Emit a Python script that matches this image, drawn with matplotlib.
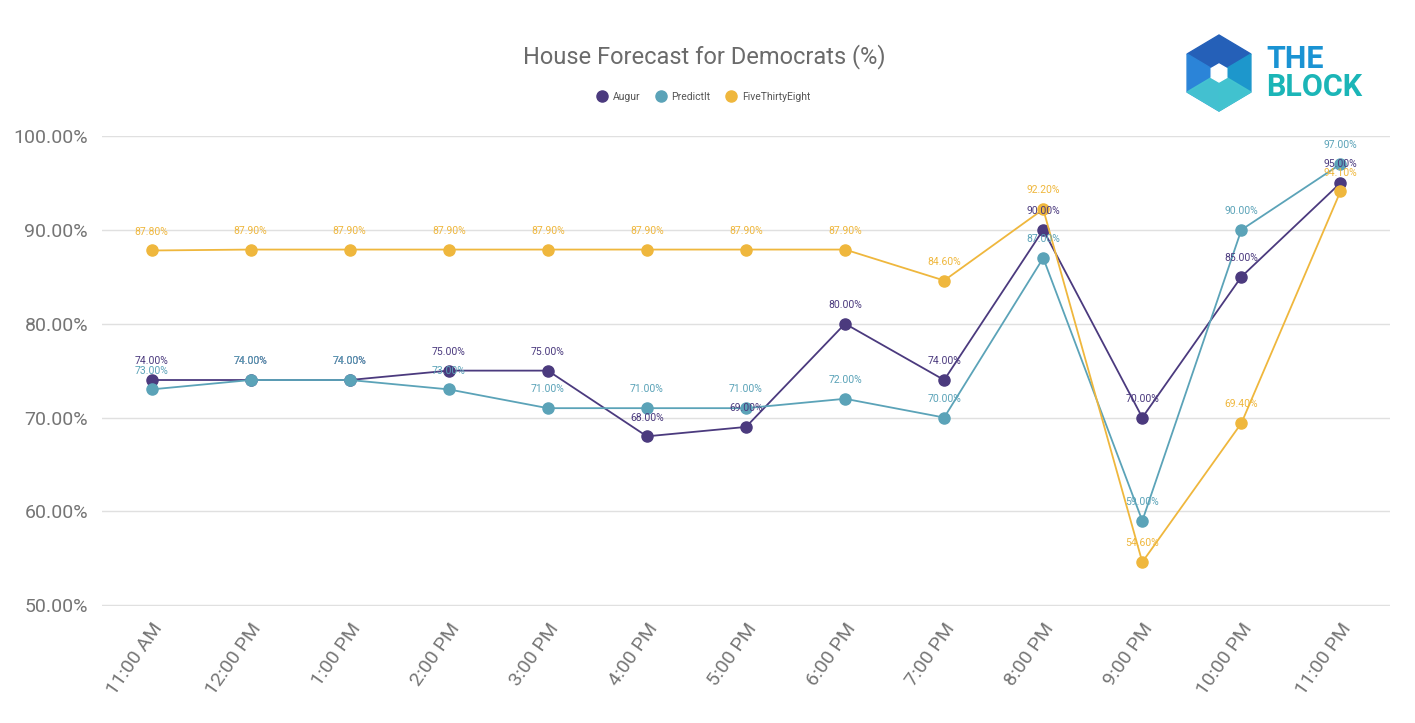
import matplotlib.pyplot as plt
import numpy as np
from matplotlib.patches import Polygon

plt.rcParams['font.family'] = ['Roboto', 'DejaVu Sans']

times = ['11:00 AM', '12:00 PM', '1:00 PM', '2:00 PM', '3:00 PM', '4:00 PM', '5:00 PM',
         '6:00 PM', '7:00 PM', '8:00 PM', '9:00 PM', '10:00 PM', '11:00 PM']
augur = [74, 74, 74, 75, 75, 68, 69, 80, 74, 90, 70, 85, 95]
predictit = [73, 74, 74, 73, 71, 71, 71, 72, 70, 87, 59, 90, 97]
fte = [87.8, 87.9, 87.9, 87.9, 87.9, 87.9, 87.9, 87.9, 84.6, 92.2, 54.6, 69.4, 94.1]

names = ['Augur', 'PredictIt', 'FiveThirtyEight']
colors = ['#4b3a7e', '#5ba3b8', '#efb73d']

fig = plt.figure(figsize=(14.15, 7.23), dpi=100)
ax = fig.add_axes([102 / 1415, 1 - 606 / 723, 1288 / 1415, 470 / 723])

x = np.arange(len(times))
for vals, name, c in zip([augur, predictit, fte], names, colors):
    ax.plot(x, vals, color=c, lw=1.3, marker='o', ms=8, label=name, zorder=3)
    for xi, v in zip(x, vals):
        ax.annotate('%.2f%%' % v, (xi, v), xytext=(0, 13.5), textcoords='offset points',
                    ha='center', va='center', fontsize=7.5, color=c, zorder=4)

ax.set_xlim(-0.5, len(times) - 0.5)
ax.set_ylim(49.92, 100)
ax.set_yticks([50, 60, 70, 80, 90, 100])
ax.set_yticklabels(['%.2f%%' % t for t in [50, 60, 70, 80, 90, 100]],
                   fontsize=14, color='#757575')
ax.set_xticks(x)
ax.set_xticklabels(times, rotation=55, ha='right', rotation_mode='anchor',
                   fontsize=14, color='#757575')
ax.tick_params(axis='both', length=0, pad=10)
ax.grid(axis='y', color='#e0e0e0', lw=1)
ax.set_axisbelow(True)
for s in ax.spines.values():
    s.set_visible(False)

fig.text(704 / 1415, 1 - 57 / 723, 'House Forecast for Democrats (%)', ha='center', va='center',
         fontsize=17, color='#6b6b6b')
fig.legend(loc='center', bbox_to_anchor=(704 / 1415, 1 - 97 / 723), ncol=3, frameon=False,
           fontsize=7.5, handlelength=0.8, handletextpad=0.6, columnspacing=1.6,
           labelcolor='#555555')
leg = fig.legends[0]
for h in leg.legend_handles:
    h.set_linestyle('none')

# logo
lax = fig.add_axes([0, 0, 1, 1])
lax.set_xlim(0, 1415)
lax.set_ylim(723, 0)
lax.axis('off')
cx, cy, r = 1219, 73, 38
ang = np.deg2rad(np.arange(-90, 270, 60))
hx = cx + r * np.cos(ang) * 0.97
hy = cy + r * np.sin(ang)
# vertices: 0 top, 1 upper-right, 2 lower-right, 3 bottom, 4 lower-left, 5 upper-left
c0 = (cx, cy)
lax.add_patch(Polygon([c0, (hx[5], hy[5]), (hx[0], hy[0]), (hx[1], hy[1])], color='#2560b8'))
lax.add_patch(Polygon([c0, (hx[5], hy[5]), (hx[4], hy[4]), (hx[3], hy[3])], color='#2b84d8'))
lax.add_patch(Polygon([c0, (hx[1], hy[1]), (hx[2], hy[2]), (hx[3], hy[3])], color='#1d97cc'))
lax.add_patch(Polygon([c0, (hx[4], hy[4]), (hx[3], hy[3]), (hx[2], hy[2])], color='#46c7d0', alpha=0.9))
sx = cx + 9 * np.cos(ang)
sy = cy + 9 * np.sin(ang)
lax.add_patch(Polygon(np.column_stack([sx, sy]), color='white'))
lax.text(1266, 59, 'THE', fontsize=22, fontweight='bold', color='#1a93d3', va='center', ha='left')
lax.text(1266, 87, 'BLOCK', fontsize=22, fontweight='bold', color='#1bb5b7', va='center', ha='left')

fig.savefig('out.png', dpi=100)
